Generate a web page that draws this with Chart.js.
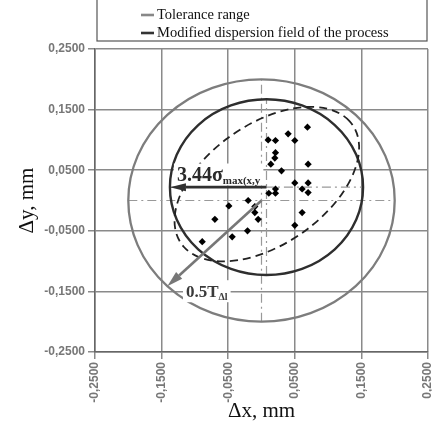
<!DOCTYPE html>
<html><head><meta charset="utf-8">
<script src="https://cdn.jsdelivr.net/npm/chart.js@4/dist/chart.umd.min.js"></script>
<style>html,body{margin:0;padding:0;background:#fff;}#wrap{width:432px;height:424px;}</style>
</head><body><div id="wrap"><canvas id="c" width="432" height="424"></canvas></div>
<script>
// ---- data ----
const tickValues = [-0.25, -0.15, -0.05, 0.05, 0.15, 0.25];
const pointsX = [0.069,0.040,0.050,0.010,0.021,0.021,0.020,0.014,0.030,0.070,0.050,0.070,0.061,0.070,0.021,0.021,0.011,0.061,0.050,-0.049,-0.070,-0.020,-0.010,-0.010,-0.005,-0.021,-0.044,-0.089];
const pointsY = [0.121,0.110,0.099,0.100,0.099,0.079,0.070,0.060,0.049,0.060,0.029,0.029,0.019,0.013,0.019,0.012,0.012,-0.020,-0.041,-0.009,-0.031,0.000,-0.010,-0.020,-0.031,-0.050,-0.060,-0.068];
const toleranceCenter = [0, 0];
const toleranceRadius = 0.2;
const dispersionCenter = [0.0075, 0.022];
const dispersionRadius = 0.145;
const ellipseCenter = [0.008, 0.027];
const ellipseAxes = [0.162, 0.096];
const ellipseAngle = 40;
const legendLabels = ['Tolerance range', 'Modified dispersion field of the process'];

const fmt = v => (v < 0 ? '-' : '') + Math.abs(v).toFixed(4).replace('.', ',');

const shapes = {
  id: 'shapes',
  beforeDatasetsDraw(chart) {
    const {ctx, scales: {x, y}} = chart;
    const px = v => x.getPixelForValue(v), py = v => y.getPixelForValue(v);
    const sx = px(1) - px(0), sy = py(0) - py(1);
    const ell = (c, a, b, ang) => {
      ctx.save(); ctx.translate(px(c[0]), py(c[1])); ctx.scale(sx, -sy);
      ctx.rotate(ang * Math.PI / 180); ctx.beginPath(); ctx.ellipse(0, 0, a, b, 0, 0, 2 * Math.PI); ctx.restore();
    };
    const seg = (x1, y1, x2, y2) => { ctx.beginPath(); ctx.moveTo(px(x1), py(y1)); ctx.lineTo(px(x2), py(y2)); ctx.stroke(); };
    ctx.save();
    ctx.strokeStyle = '#999'; ctx.lineWidth = 1.2; ctx.setLineDash([9, 4, 2, 4]);
    const tc = toleranceCenter, tr = toleranceRadius, dc = dispersionCenter, dr = dispersionRadius;
    seg(tc[0] - tr, tc[1], tc[0] + tr, tc[1]);
    seg(tc[0], tc[1] - tr, tc[0], tc[1] + tr);
    seg(dc[0] - dr, dc[1], dc[0] + dr, dc[1]);
    seg(dc[0], dc[1] - dr, dc[0], dc[1] + dr);
    ctx.setLineDash([]);
    ell(tc, tr, tr, 0); ctx.strokeStyle = '#7d7d7d'; ctx.lineWidth = 2.3; ctx.stroke();
    ell(dc, dr, dr, 0); ctx.strokeStyle = '#2e2e2e'; ctx.lineWidth = 2.4; ctx.stroke();
    ell(ellipseCenter, ellipseAxes[0], ellipseAxes[1], ellipseAngle);
    ctx.setLineDash([8, 5]); ctx.strokeStyle = '#222'; ctx.lineWidth = 1.8; ctx.stroke(); ctx.setLineDash([]);

    const label = (main, sub, x0, yb, fm, fs, color, subDy) => {
      ctx.font = fm; const w1 = ctx.measureText(main).width;
      ctx.font = fs; const w2 = ctx.measureText(sub).width;
      ctx.fillStyle = '#fff'; ctx.fillRect(x0 - 3, yb - 17, w1 + w2 + 6, 22);
      ctx.fillStyle = color; ctx.textBaseline = 'alphabetic'; ctx.textAlign = 'left';
      ctx.font = fm; ctx.fillText(main, x0, yb);
      ctx.font = fs; ctx.fillText(sub, x0 + w1, yb + subDy);
    };
    label('3.44σ', 'max(x,y', px(-0.127), py(0.033), 'bold 20px "Liberation Serif"', 'bold 11px "Liberation Serif"', '#2a2a2a', 3);
    label('0.5T', 'Δl', px(-0.1134), py(-0.1596), 'bold 17px "Liberation Serif"', 'bold 10px "Liberation Serif"', '#3a3a3a', 3);
    ctx.restore();
  },
  afterDatasetsDraw(chart) {
    const {ctx, scales: {x, y}} = chart;
    const px = v => x.getPixelForValue(v), py = v => y.getPixelForValue(v);
    const arrow = (x1, y1, x2, y2, color, lw, hl, hw) => {
      const a = Math.atan2(y2 - y1, x2 - x1);
      const bx = x2 - hl * Math.cos(a), by = y2 - hl * Math.sin(a);
      ctx.strokeStyle = color; ctx.fillStyle = color; ctx.lineWidth = lw;
      ctx.beginPath(); ctx.moveTo(x1, y1); ctx.lineTo(bx, by); ctx.stroke();
      ctx.beginPath(); ctx.moveTo(x2, y2);
      ctx.lineTo(bx + hw * Math.sin(a), by - hw * Math.cos(a));
      ctx.lineTo(bx - hw * Math.sin(a), by + hw * Math.cos(a)); ctx.closePath(); ctx.fill();
    };
    ctx.save();
    const dc = dispersionCenter, dr = dispersionRadius, tc = toleranceCenter, tr = toleranceRadius;
    arrow(px(dc[0]), py(dc[1]), px(dc[0] - dr), py(dc[1]), '#303030', 2.6, 16, 4);
    const d = tr * Math.SQRT1_2;
    arrow(px(tc[0]), py(tc[1]), px(tc[0] - d), py(tc[1] - d), '#777', 2.6, 16, 4.5);
    ctx.restore();
  },
  afterDraw(chart) {
    const ctx = chart.ctx;
    ctx.save();
    ctx.strokeStyle = '#555'; ctx.lineWidth = 1.2;
    ctx.strokeRect(97, -2, 330, 43);
    const cols = ['#888', '#333'];
    legendLabels.forEach((t, i) => {
      const yy = 15 + i * 18;
      ctx.strokeStyle = cols[i]; ctx.lineWidth = 2.6;
      ctx.beginPath(); ctx.moveTo(141, yy); ctx.lineTo(154, yy); ctx.stroke();
      ctx.fillStyle = '#111'; ctx.font = '14.5px "Liberation Serif"';
      ctx.textBaseline = 'middle'; ctx.textAlign = 'left';
      ctx.fillText(t, 157, yy);
    });
    ctx.restore();
  }
};

const setTicks = s => { s.ticks = tickValues.map(v => ({value: v})); };
const tickFont = {family: 'Liberation Sans', size: 12, weight: 'bold'};
const gridOpts = {color: '#8a8a8a', lineWidth: 1.5, tickLength: 7, drawTicks: true};
const titleFont = {family: 'Liberation Serif', size: 21};

new Chart(document.getElementById('c'), {
  type: 'scatter',
  data: {datasets: [{
    data: pointsX.map((v, i) => ({x: v, y: pointsY[i]})),
    pointStyle: 'rectRot', pointRadius: 3.6, backgroundColor: '#000', borderWidth: 0
  }]},
  options: {
    responsive: false, animation: false, devicePixelRatio: 1,
    layout: {padding: {left: 0, right: 3, top: 49, bottom: 0}},
    plugins: {legend: {display: false}, tooltip: {enabled: false}},
    scales: {
      x: {
        type: 'linear', min: -0.25, max: 0.25, afterBuildTicks: setTicks,
        afterFit: s => { s.height = 72; s.paddingLeft = 0; s.paddingRight = 0; },
        ticks: {minRotation: 90, maxRotation: 90, autoSkip: false, callback: fmt, font: tickFont, color: '#777', padding: 3},
        grid: gridOpts, border: {color: '#666', width: 1.5},
        title: {display: true, text: 'Δx, mm', font: titleFont, color: '#111', padding: {top: 0, bottom: 0}}
      },
      y: {
        type: 'linear', min: -0.25, max: 0.25, afterBuildTicks: setTicks,
        afterFit: s => { s.width = 95; s.paddingTop = 0; s.paddingBottom = 0; },
        ticks: {autoSkip: false, callback: fmt, font: tickFont, color: '#777', padding: 3},
        grid: gridOpts, border: {color: '#666', width: 1.5},
        title: {display: true, text: 'Δy, mm', font: titleFont, color: '#111', padding: {top: 15, bottom: 0}}
      }
    }
  },
  plugins: [shapes]
});
</script></body></html>
